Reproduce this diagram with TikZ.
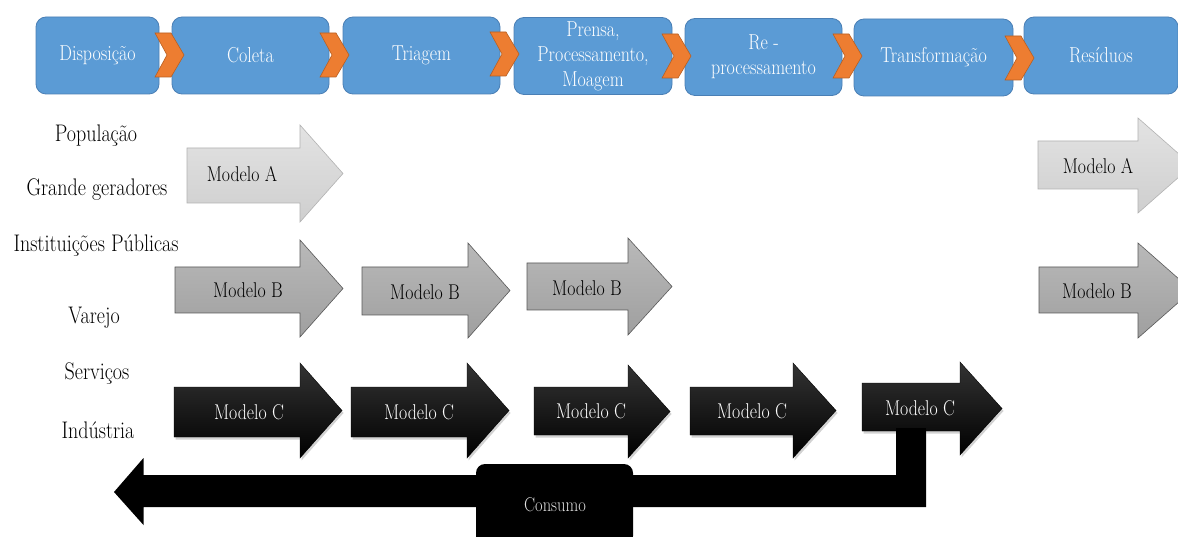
\documentclass[tikz,border=0pt]{standalone}
\usetikzlibrary{shadows}

\definecolor{stageblue}{HTML}{5B9BD5}
\definecolor{stageedge}{HTML}{4A7FB5}
\definecolor{chevorange}{HTML}{ED7D31}
\definecolor{chevedge}{HTML}{B85F22}

% slightly elongated lettering
\newcommand{\tall}[1]{\scalebox{1}[1.2]{#1}}

\tikzset{
  stagebox/.style={draw=stageedge, line width=0.8pt, fill=stageblue, rounded corners=10pt,
    text=white, font=\fontsize{18}{24}\selectfont, align=center},
  chevshape/.style={draw=chevedge, line width=0.6pt, fill=chevorange},
  actor/.style={font=\fontsize{20}{24}\selectfont, text=black},
  arrowA/.style={draw=gray!60, line width=0.6pt, top color=gray!22, bottom color=gray!38},
  arrowB/.style={draw=gray!130, line width=0.6pt, top color=gray!55, bottom color=gray!75},
  arrowC/.style={draw=black, line width=0.4pt, top color=black!80, bottom color=black,
    drop shadow={shadow xshift=1.5pt, shadow yshift=-2.5pt, opacity=0.35}},
  modeltext/.style={font=\fontsize{17.8}{22}\selectfont, text=black},
  modelwhite/.style={font=\fontsize{17.8}{22}\selectfont, text=white},
  consumobox/.style={fill=black, rounded corners=9pt}
}

% block arrow: #1 name, #2 style, #3 body left x, #4 head base x, #5 tip x,
% #6 body top y, #7 body bottom y, #8 head top y, #9 head bottom y
\newcommand{\modelarrow}[9]{%
  \path[#2] (#3,#6) -- (#4,#6) -- (#4,#8) -- (#5,{(#8+#9)/2}) -- (#4,#9) -- (#4,#7) -- (#3,#7) -- cycle;
  \coordinate (#1) at ({(#3+#4)/2},{(#6+#7)/2});
}
% chevron: #1 left x, #2 centre y
\newcommand{\chevron}[2]{%
  \path[chevshape] (#1,#2-22) -- (#1+16,#2-22) -- (#1+29,#2) -- (#1+16,#2+22)
    -- (#1,#2+22) -- (#1+12,#2) -- cycle;
}

\begin{document}
\begin{tikzpicture}[x=1pt, y=-1pt]
\clip (0,0) rectangle (1178,537);
\fill[white] (0,0) rectangle (1178,537);

% process stages
\node[stagebox, minimum width=123pt, minimum height=77pt] (disp) at (97.5,55.5) {\tall{Disposição}};
\node[stagebox, minimum width=157pt, minimum height=77pt] (colet) at (250.5,55.5) {\tall{Coleta}};
\node[stagebox, minimum width=157pt, minimum height=77pt] (triag) at (421.5,55.5) {\tall{Triagem}};
\node[stagebox, minimum width=158pt, minimum height=77pt, font=\fontsize{18}{25}\selectfont] (prensa) at (593,56) {\tall{Prensa,}\\\tall{Processamento,}\\\tall{Moagem}};
\node[stagebox, minimum width=157pt, minimum height=77pt, font=\fontsize{18}{25}\selectfont] (repro) at (763.5,57) {\tall{Re -}\\\tall{processamento}};
\node[stagebox, minimum width=159pt, minimum height=77pt] (transf) at (933.5,57.5) {\tall{Transformação}};
\node[stagebox, minimum width=154pt, minimum height=77pt] (resid) at (1101,55.5) {\tall{Resíduos}};

\chevron{155}{55}
\chevron{320}{55}
\chevron{490}{54}
\chevron{662}{56}
\chevron{833}{56}
\chevron{1005}{58}

% generators
\node[actor] (pop) at (96,136) {\tall{População}};
\node[actor] (grande) at (97,190) {\tall{Grande geradores}};
\node[actor] (inst) at (96,246) {\tall{Instituições Públicas}};
\node[actor] (varejo) at (94,318) {\tall{Varejo}};
\node[actor] (serv) at (97,374) {\tall{Serviços}};
\node[actor] (indus) at (98,430) {\tall{Indústria}};

% model A
\modelarrow{a1}{arrowA}{187}{300}{343}{148}{203}{125}{222}
\node[modeltext] at (242,174) {\tall{Modelo A}};
\modelarrow{a2}{arrowA}{1038}{1138}{1192}{141}{189}{118}{213}
\node[modeltext] at (1098,166) {\tall{Modelo A}};

% model B
\modelarrow{b1}{arrowB}{175}{300}{343}{267}{313}{240}{337}
\node[modeltext] at (248,290) {\tall{Modelo B}};
\modelarrow{b2}{arrowB}{362}{468}{510}{267}{315}{243}{338}
\node[modeltext] at (425,292) {\tall{Modelo B}};
\modelarrow{b3}{arrowB}{527}{628}{672}{263}{310}{238}{335}
\node[modeltext] at (587,288) {\tall{Modelo B}};
\modelarrow{b4}{arrowB}{1039}{1138}{1192}{267}{313}{243}{338}
\node[modeltext] at (1097,291) {\tall{Modelo B}};

% consumption return path
\fill[black] (896,425) -- (926,425) -- (926,507) -- (143.5,507) -- (143.5,525) -- (114,492)
  -- (143.5,458) -- (143.5,475) -- (896,475) -- cycle;
\fill[consumobox] (476,464) rectangle (633,545);
\node[font=\fontsize{16.5}{20}\selectfont, text=white!88!black] (consumo) at (555,505) {\tall{Consumo}};

% model C
\modelarrow{c1}{arrowC}{174}{300}{342}{387}{437}{363}{458}
\node[modelwhite] at (249,412) {\tall{Modelo C}};
\modelarrow{c2}{arrowC}{351}{467}{509}{387}{437}{363}{458}
\node[modelwhite] at (419,412) {\tall{Modelo C}};
\modelarrow{c3}{arrowC}{534}{628}{670}{387}{435}{365}{458}
\node[modelwhite] at (591,411) {\tall{Modelo C}};
\modelarrow{c4}{arrowC}{690}{793}{836}{387}{435}{363}{458}
\node[modelwhite] at (752,411) {\tall{Modelo C}};
\modelarrow{c5}{arrowC}{862}{960}{1002}{383}{431}{362}{455}
\node[modelwhite] at (920,408) {\tall{Modelo C}};
\fill[black] (896,428) rectangle (926,480);
\end{tikzpicture}
\end{document}
